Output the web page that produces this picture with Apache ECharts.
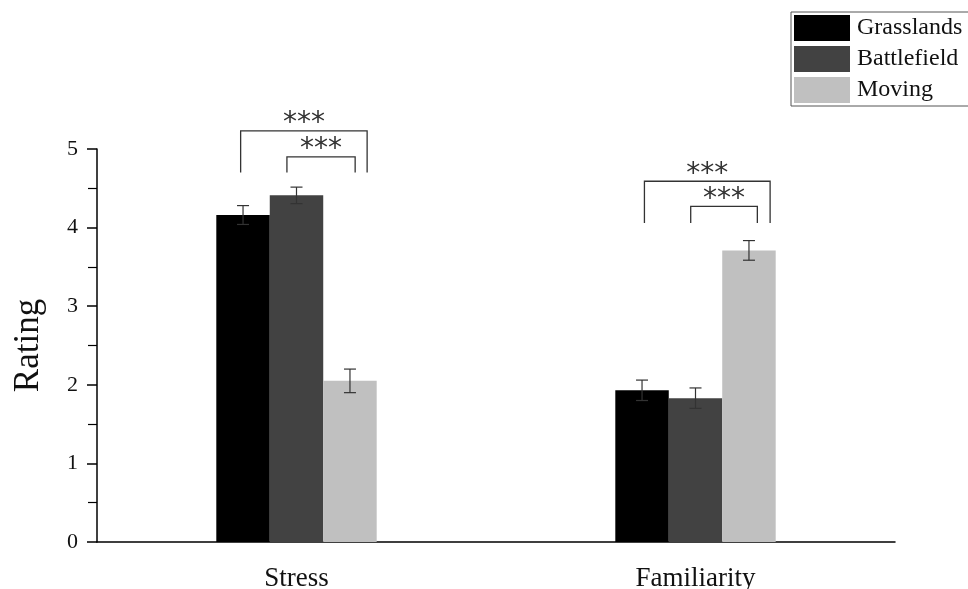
<!DOCTYPE html>
<html>
<head>
<meta charset="utf-8">
<script src="https://cdn.jsdelivr.net/npm/echarts@6/dist/echarts.min.js"></script>
<style>
  html, body { margin: 0; padding: 0; background: #fff; }
  #chart { width: 968px; height: 589px; }
</style>
</head>
<body>
<div id="chart"></div>
<script>
const categories = ['Stress', 'Familiarity']
const seriesNames = ['Grasslands', 'Battlefield', 'Moving']
const grasslands = [4.16, 1.93]
const battlefield = [4.41, 1.83]
const moving = [2.05, 3.71]
const grasslandsErr = [0.12, 0.13]
const battlefieldErr = [0.105, 0.13]
const movingErr = [0.15, 0.125]
const yTicks = [0, 1, 2, 3, 4, 5]
// significance brackets: [from, to] on a 0..2 category scale, bar height, foot height
const bracketX = [[0.36, 0.677], [0.476, 0.647], [1.372, 1.687], [1.488, 1.655]]
const bracketY = [5.23, 4.9, 4.59, 4.27]
const bracketFoot = [4.7, 4.7, 4.06, 4.06]
const bracketLabel = ['***', '***', '***', '***']

const colors = ['#000000', '#424242', '#c0c0c0']
const values = [grasslands, battlefield, moving]
const errors = [grasslandsErr, battlefieldErr, movingErr]
const barFrac = 0.134
const serif = 'Liberation Serif'

const chart = echarts.init(document.getElementById('chart'))

const barSeries = seriesNames.map((name, i) => ({
  name: name,
  type: 'bar',
  xAxisIndex: 0,
  barWidth: barFrac * 100 + '%',
  barGap: '0%',
  itemStyle: { color: colors[i] },
  data: values[i],
  z: 2,
}))

const errSeries = seriesNames.map((name, i) => ({
  type: 'custom',
  xAxisIndex: 0,
  silent: true,
  z: 3,
  data: categories.map((c, k) => [k, values[i][k] - errors[i][k], values[i][k] + errors[i][k]]),
  renderItem: (params, api) => {
    const band = api.size([1, 0])[0]
    const off = (i - 1) * band * barFrac
    const lo = api.coord([api.value(0), api.value(1)])
    const hi = api.coord([api.value(0), api.value(2)])
    const x = lo[0] + off
    const cap = 6
    const style = { stroke: '#333', lineWidth: 1.2 }
    return {
      type: 'group',
      children: [
        { type: 'line', shape: { x1: x, y1: lo[1], x2: x, y2: hi[1] }, style },
        { type: 'line', shape: { x1: x - cap, y1: lo[1], x2: x + cap, y2: lo[1] }, style },
        { type: 'line', shape: { x1: x - cap, y1: hi[1], x2: x + cap, y2: hi[1] }, style },
      ],
    }
  },
}))

const bracketSeries = {
  type: 'custom',
  xAxisIndex: 1,
  silent: true,
  clip: false,
  z: 4,
  data: bracketX.map((b, k) => [b[0], b[1], bracketY[k], bracketFoot[k], k]),
  renderItem: (params, api) => {
    const a = api.coord([api.value(0), api.value(2)])
    const b = api.coord([api.value(1), api.value(2)])
    const fa = api.coord([api.value(0), api.value(3)])
    const style = { stroke: '#333', lineWidth: 1.3, fill: null }
    return {
      type: 'group',
      children: [
        {
          type: 'polyline',
          shape: { points: [[a[0], fa[1]], a, b, [b[0], fa[1]]] },
          style,
        },
        {
          type: 'text',
          x: (a[0] + b[0]) / 2,
          y: a[1] - 7,
          style: {
            text: bracketLabel[api.value(4)],
            fill: '#333',
            font: '28px DejaVu Sans',
            align: 'center',
            verticalAlign: 'middle',
          },
        },
      ],
    }
  },
}

const option = {
  backgroundColor: '#fff',
  animation: false,
  legend: {
    data: seriesNames,
    orient: 'vertical',
    left: 791,
    top: 12,
    padding: [3, 20, 3, 3],
    itemGap: 5,
    itemWidth: 56,
    itemHeight: 26,
    icon: 'rect',
    borderColor: '#555',
    borderWidth: 1,
    textStyle: { fontFamily: serif, fontSize: 24, color: '#111', padding: [0, 0, 0, 2] },
  },
  grid: { left: 97, right: 73, top: 149, bottom: 47, outerBoundsMode: 'none' },
  xAxis: [
    {
      type: 'category',
      data: categories,
      axisLine: { lineStyle: { color: '#000', width: 1.5 } },
      axisTick: { alignWithLabel: true, length: 10, lineStyle: { color: '#000', width: 1.5 } },
      axisLabel: { fontFamily: serif, fontSize: 27, color: '#111', margin: 23 },
    },
    { type: 'value', min: 0, max: 2, show: false },
  ],
  yAxis: {
    type: 'value',
    min: 0,
    max: 5,
    interval: 1,
    name: 'Rating',
    nameLocation: 'middle',
    nameGap: 51,
    nameTextStyle: { fontFamily: serif, fontSize: 35, color: '#111' },
    axisLine: { show: true, lineStyle: { color: '#000', width: 1.5 } },
    axisTick: { show: true, length: 10, lineStyle: { color: '#000', width: 1.5 } },
    minorTick: { show: true, splitNumber: 2, length: 9, lineStyle: { color: '#000', width: 1.2 } },
    axisLabel: {
      fontFamily: serif,
      fontSize: 22,
      color: '#111',
      margin: 19,
      formatter: v => (yTicks.includes(v) ? String(v) : ''),
    },
    splitLine: { show: false },
  },
  series: [...barSeries, ...errSeries, bracketSeries],
}
chart.setOption(option)
</script>
</body>
</html>
